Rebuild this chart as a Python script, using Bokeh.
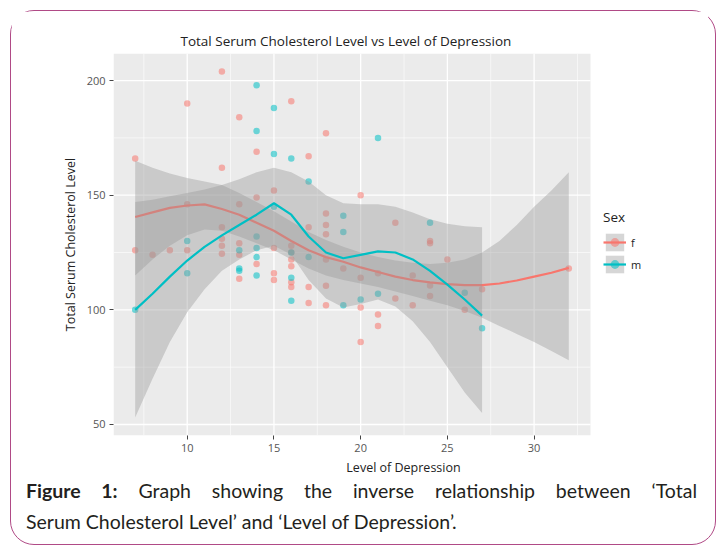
from bokeh.plotting import figure
from bokeh.models import FixedTicker, Legend, LegendItem, Div
from bokeh.layouts import column
from bokeh.embed import file_html
from bokeh.resources import INLINE

# ---- data ----
f_x = [7, 7, 8, 9, 10, 10, 10, 12, 12, 12, 12, 12, 12, 13, 13, 13, 13, 13, 14, 14, 14,
       15, 15, 15, 15, 16, 16, 16, 16, 16, 16, 16, 17, 17, 17, 17, 18, 18, 18, 18, 18, 18, 18,
       19, 20, 20, 20, 20, 21, 21, 21, 22, 22, 23, 23, 24, 24, 24, 24, 25, 26, 27, 32]
f_y = [166, 126, 124, 126, 190, 146, 126, 204, 162, 136, 131, 128, 124.5, 184, 146, 129, 124, 113.6,
       169, 149, 120, 152, 127, 116, 113, 191, 128, 125, 122, 119, 112, 110, 167, 136, 110, 103,
       177, 142, 137, 133, 122, 110.5, 102, 118, 150, 114, 101, 86, 116, 98, 93, 138, 105, 115, 102,
       130, 129, 110.6, 106, 122, 100, 109, 118]
m_x = [7, 10, 10, 13, 13, 13, 14, 14, 14, 14, 14, 14, 15, 15, 15, 16, 16, 16, 16, 17, 17,
       19, 19, 19, 20, 21, 21, 24, 26, 27]
m_y = [100, 130, 116, 126, 118, 117, 198, 178, 132, 127, 123, 115, 188, 168, 145, 166, 125, 114, 104,
       156, 123, 141, 134, 102, 104.5, 175, 107, 138, 107.5, 92]

f_sx = [7, 8, 9, 10, 11, 12, 13, 14, 15, 16, 17, 18, 19, 20, 21, 22, 23, 24, 25, 26, 27, 28, 29, 30, 31, 32]
f_fit = [140.5, 142.5, 144.5, 145.5, 146, 144, 141.5, 138, 134.5, 130, 126, 123, 121, 118.5, 116.5,
         114.5, 113, 112, 111.2, 110.8, 110.8, 111.5, 112.8, 114.5, 116.2, 118.3]
f_up = [165, 162, 159.5, 157.5, 156, 154.5, 151, 147, 143, 138.5, 134, 130.5, 127.5, 125, 123, 121.5,
        120.5, 120, 120.5, 122, 125, 130, 137, 145, 152, 160]
f_lo = [115, 122, 128, 132.5, 135, 134.5, 132, 129, 126, 122, 118, 115, 113, 111.5, 110, 108, 106,
        104, 102, 99.5, 96.5, 93, 89.5, 86, 82, 78]

m_sx = [7, 8, 9, 10, 11, 12, 13, 14, 15, 16, 17, 18, 19, 20, 21, 22, 23, 24, 25, 26, 27]
m_fit = [100, 107, 114.5, 121.5, 127.5, 132.5, 137, 141.5, 146.5, 141.5, 132, 125, 122.5, 124, 125.5,
         125, 122, 117, 111, 104.5, 97.5]
m_up = [147, 148, 149.5, 151, 152.5, 154.5, 157, 160, 162, 160, 156, 150, 146.5, 146, 146, 145, 142.5,
        139.5, 137.5, 136.5, 136]
m_lo = [53, 70, 86, 99, 109, 117, 122, 126, 128, 124, 113, 105, 101, 102.5, 104.5, 101.5, 95, 86, 75, 64, 55]

x_ticks = [10, 15, 20, 25, 30]
x_minor = [7.5, 12.5, 17.5, 22.5, 27.5, 32.5]
y_ticks = [50, 100, 150, 200]
y_minor = [75, 125, 175]

# panel (data area) limits, ggplot-style 5% expansion
X0, X1 = 5.75, 33.25
Y0, Y1 = 45.2, 211.8
X_FRAME_END = 39.19   # frame extends right to host the legend

PINK = "#F8766D"
CYAN = "#00BFC4"
FONT = "Open Sans"

p = figure(frame_width=580, frame_height=382, x_range=(X0, X_FRAME_END), y_range=(Y0, Y1),
           output_backend="svg", toolbar_location=None,
           min_border_left=102, min_border_right=15, min_border_top=42, min_border_bottom=39)
p.background_fill_color = "white"
p.border_fill_color = "white"
p.outline_line_color = None
p.xgrid.visible = False
p.ygrid.visible = False

p.title.text = "Total Serum Cholesterol Level vs Level of Depression"
p.title.align = "left"
p.title.offset = 67
p.title.text_font = FONT
p.title.text_font_size = "13.5px"
p.title.text_font_style = "normal"
p.title.text_color = "#222222"
p.title.standoff = 7

for ax, tk in ((p.xaxis, x_ticks), (p.yaxis, y_ticks)):
    ax.ticker = FixedTicker(ticks=tk)
    ax.axis_line_color = None
    ax.major_tick_line_color = "#444444"
    ax.major_tick_out = 4
    ax.major_tick_in = 0
    ax.minor_tick_line_color = None
    ax.major_label_text_font = FONT
    ax.major_label_text_font_size = "11px"
    ax.major_label_text_color = "#555555"
    ax.major_label_standoff = 4
    ax.axis_label_text_font = FONT
    ax.axis_label_text_font_size = "12.5px"
    ax.axis_label_text_font_style = "normal"
    ax.axis_label_text_color = "#222222"
    ax.axis_label_standoff = 5

p.xaxis.major_label_standoff = 4
p.xaxis.axis_label = "Level of Depression"
p.xaxis.axis_label_standoff = 4
p.yaxis.axis_label = "Total Serum Cholesterol Level"

# grey panel + white grid (ggplot look)
p.quad(left=[X0], right=[X1], bottom=[Y0], top=[Y1], fill_color="#EBEBEB", line_color=None)
p.segment(x0=x_minor, x1=x_minor, y0=Y0, y1=Y1, line_color="white", line_width=0.6)
p.segment(x0=X0, x1=X1, y0=y_minor, y1=y_minor, line_color="white", line_width=0.6)
p.segment(x0=x_ticks, x1=x_ticks, y0=Y0, y1=Y1, line_color="white", line_width=1.3)
p.segment(x0=X0, x1=X1, y0=y_ticks, y1=y_ticks, line_color="white", line_width=1.3)

f_pts = p.scatter(f_x, f_y, size=6.5, fill_color=PINK, line_color=None, fill_alpha=0.55)
m_pts = p.scatter(m_x, m_y, size=6.5, fill_color=CYAN, line_color=None, fill_alpha=0.55)

f_band = p.varea(x=f_sx, y1=f_lo, y2=f_up, fill_color="#999999", fill_alpha=0.4)
f_line = p.line(f_sx, f_fit, line_color=PINK, line_width=2.2)
m_band = p.varea(x=m_sx, y1=m_lo, y2=m_up, fill_color="#999999", fill_alpha=0.4)
m_line = p.line(m_sx, m_fit, line_color=CYAN, line_width=2.2)

legend = Legend(items=[LegendItem(label="f", renderers=[f_band, f_line, f_pts]),
                       LegendItem(label="m", renderers=[m_band, m_line, m_pts])],
                location=(490, 160), title="Sex")
legend.title_text_font = FONT
legend.title_text_font_size = "13.5px"
legend.title_text_font_style = "normal"
legend.title_text_color = "#222222"
legend.label_text_font = FONT
legend.label_text_font_size = "11px"
legend.label_text_color = "#222222"
legend.glyph_width = 23
legend.glyph_height = 22
legend.label_height = 22
legend.spacing = 0
legend.label_standoff = 5
legend.title_standoff = 5
legend.margin = 0
legend.padding = 10
legend.border_line_color = None
legend.background_fill_alpha = 0
p.add_layout(legend)

cap_html = (
    '<div style="font-family:Lato, \'Open Sans\', sans-serif;font-size:19.5px;line-height:31px;'
    'color:#231F20;width:671px;margin-left:10px;margin-top:-8px;">'
    '<div style="text-align:justify;text-align-last:justify;"><b>Figure 1:</b> Graph showing the '
    'inverse relationship between \u2018Total</div>'
    '<div>Serum Cholesterol Level\u2019 and \u2018Level of Depression\u2019.</div></div>'
)
cap = Div(text=cap_html, width=694, height=56)

lay = column(p, cap, styles={"border": "1.5px solid #B04A86", "border-radius": "24px",
                             "background": "white", "margin-left": "10px", "margin-top": "10px"})

open("out.html", "w").write(file_html(lay, INLINE))
